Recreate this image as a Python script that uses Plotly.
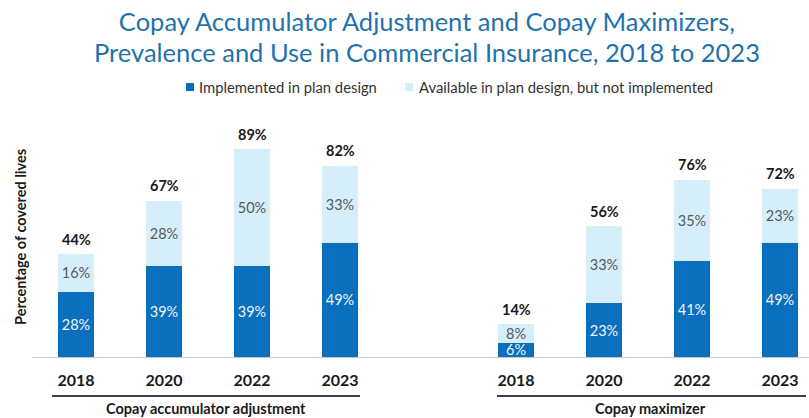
import plotly.graph_objects as go

# ---- data -------------------------------------------------------------
years = ["2018", "2020", "2022", "2023"]
groups = ["Copay accumulator adjustment", "Copay maximizer"]
series_names = ["Implemented in plan design", "Available in plan design, but not implemented"]
title_lines = ["Copay Accumulator Adjustment and Copay Maximizers,",
               "Prevalence and Use in Commercial Insurance, 2018 to 2023"]

accum_implemented = [28, 39, 39, 49]
accum_available = [16, 28, 50, 33]
accum_total = [44, 67, 89, 82]

maxim_implemented = [6, 23, 41, 49]
maxim_available = [8, 33, 35, 23]
maxim_total = [14, 56, 76, 72]

# ---- styling ----------------------------------------------------------
DARK = "#0a6fbd"
LIGHT = "#d6eef9"
TITLE_BLUE = "#1f72ae"
FONT = "Lato"

W, H = 809, 418
ML, MR, MT, MB = 32, 0, 110, 61
PW, PH = W - ML - MR, H - MT - MB

# slot positions: left group 0..3, gap, right group 5..8
left_x = [0, 1, 2, 3]
right_x = [5, 6, 7, 8]
xs = left_x + right_x
implemented = accum_implemented + maxim_implemented
available = accum_available + maxim_available
totals = accum_total + maxim_total

SLOT_PX = 88.0
x_lo = -44.0 / SLOT_PX
x_hi = x_lo + PW / SLOT_PX
y_hi = PH / 2.335


def px_x(px):
    return (px - ML) / PW


def px_y(py):
    return (H - MB - py) / PH


fig = go.Figure()

fig.add_trace(go.Bar(
    x=xs, y=implemented, name=series_names[0],
    marker=dict(color=DARK, line=dict(width=0)),
    width=0.41,
    text=[f"{v}%" for v in implemented],
    textposition="inside", insidetextanchor="middle", constraintext="none",
    textfont=dict(family=FONT, size=14.5, color="#eef5fb"),
    showlegend=False,
))
fig.add_trace(go.Bar(
    x=xs, y=available, name=series_names[1],
    marker=dict(color=LIGHT, line=dict(width=0)),
    width=0.41,
    text=[f"{v}%" for v in available],
    textposition="inside", insidetextanchor="middle", constraintext="none",
    textfont=dict(family=FONT, size=14.5, color="#595959"),
    showlegend=False,
))

# totals above each stack
for x, t in zip(xs, totals):
    fig.add_annotation(x=x, y=t, xref="x", yref="y", text=f"<b>{t}%</b>",
                       showarrow=False, xanchor="center", yanchor="middle", yshift=15,
                       font=dict(family=FONT, size=14.5, color="#1a1a1a"))

fig.update_layout(
    width=W, height=H,
    margin=dict(l=ML, r=MR, t=MT, b=MB),
    barmode="stack",
    paper_bgcolor="white", plot_bgcolor="white",
    font=dict(family=FONT, color="#262626"),
    title=dict(
        text=title_lines[0],
        x=427 / W, xanchor="center", xref="container",
        y=1 - 22 / H, yanchor="middle", yref="container",
        font=dict(family=FONT, size=25.5, color=TITLE_BLUE),
    ),
    xaxis=dict(
        range=[x_lo, x_hi],
        tickvals=xs, ticktext=[f"<b>{y}</b>" for y in years * 2],
        tickfont=dict(family=FONT, size=16, color="#1a1a1a"),
        ticks="", showgrid=False, zeroline=False,
        showline=True, linecolor="#c9c9c9", linewidth=1,
        ticklabelstandoff=9,
    ),
    yaxis=dict(range=[0, y_hi], visible=False),
    showlegend=False,
)

# second title line
fig.add_annotation(
    text=title_lines[1], xref="paper", yref="paper",
    x=px_x(427), y=px_y(52), xanchor="center", yanchor="middle", showarrow=False,
    font=dict(family=FONT, size=25.5, color=TITLE_BLUE),
)

# y axis caption
fig.add_annotation(
    text="<b>Percentage of covered lives</b>", textangle=-90,
    xref="paper", yref="paper", x=px_x(20), y=px_y(237),
    xanchor="center", yanchor="middle", showarrow=False,
    font=dict(family=FONT, size=14.5, color="#1a1a1a"),
)

# group underlines and captions
for (x0px, x1px), label, cx in [((52, 360), groups[0], 206), ((497, 806), groups[1], 650)]:
    fig.add_shape(type="line", xref="paper", yref="paper",
                  x0=px_x(x0px), x1=px_x(x1px), y0=px_y(396), y1=px_y(396),
                  line=dict(color="#404040", width=2))
    fig.add_annotation(text=f"<b>{label}</b>", xref="paper", yref="paper",
                       x=px_x(cx), y=px_y(408), xanchor="center", yanchor="middle",
                       showarrow=False, font=dict(family=FONT, size=14.5, color="#1a1a1a"))

# legend keys
for sq_px, txt_px, color, name in [(186, 197, DARK, series_names[0]),
                                   (405, 417, LIGHT, series_names[1])]:
    fig.add_shape(type="rect", xref="paper", yref="paper",
                  x0=px_x(sq_px), x1=px_x(sq_px + 8), y0=px_y(91), y1=px_y(83),
                  fillcolor=color, line=dict(width=0))
    fig.add_annotation(text=name, xref="paper", yref="paper",
                       x=px_x(txt_px), y=px_y(87), xanchor="left", yanchor="middle",
                       showarrow=False, font=dict(family=FONT, size=14.8, color="#333333"))

fig.write_html("out.html")
